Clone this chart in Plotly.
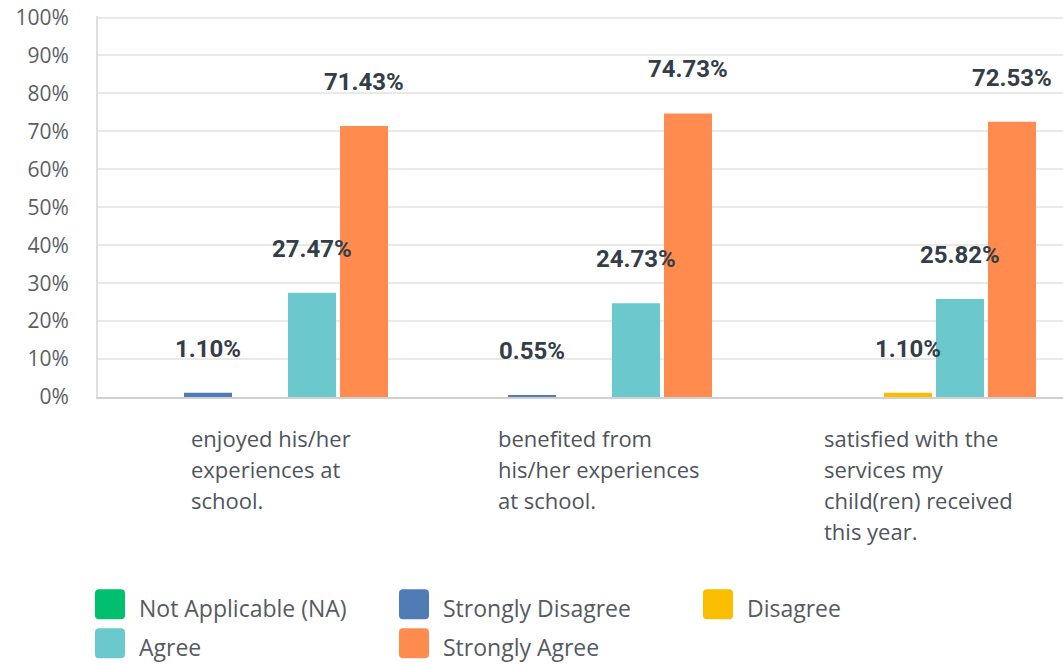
import plotly.graph_objects as go

categories = [
    "enjoyed his/her<br>experiences at<br>school.",
    "benefited from<br>his/her experiences<br>at school.",
    "satisfied with the<br>services my<br>child(ren) received<br>this year.",
]
series_names = ["Not Applicable (NA)", "Strongly Disagree", "Disagree", "Agree", "Strongly Agree"]
series_colors = ["#00bf6f", "#507cb6", "#f9be00", "#6bc8cd", "#ff8b4f"]
not_applicable = [0.0, 0.0, 0.0]
strongly_disagree = [1.10, 0.55, 0.0]
disagree = [0.0, 0.0, 1.10]
agree = [27.47, 24.73, 25.82]
strongly_agree = [71.43, 74.73, 72.53]
series_values = [not_applicable, strongly_disagree, disagree, agree, strongly_agree]
y_ticks = [0, 10, 20, 30, 40, 50, 60, 70, 80, 90, 100]
y_tick_text = [f"{t}%" for t in y_ticks]

# layout constants (page pixels); body margin is removed by the post script
W, H = 1063, 665
Y_MAX = 100.4
PLOT_L, PLOT_B = 98, 397
PLOT_T = PLOT_B - Y_MAX * 3.79
ML, MR, MT = PLOT_L, 0, PLOT_T
MB = H - PLOT_B
PW = W - ML - MR
PH = H - MT - MB
BARGAP = 0.1975
GROUPGAP = 0.077
CAT_PX = 324.0
LABEL_LEFT_SHIFT = [-71, -88, -86]
LABEL_TOP = 438
LABEL_LINE = 31

def px_x(px):
    return (px - PLOT_L) / PW

def px_y(py):
    return (PLOT_B - py) / PH

fig = go.Figure()
cat_idx = list(range(len(categories)))
for name, color, vals in zip(series_names, series_colors, series_values):
    fig.add_trace(go.Bar(x=cat_idx, y=vals, name=name, marker_color=color,
                         marker_line_width=0, showlegend=False, hoverinfo="skip"))

annotations = []
n = len(series_names)
slot = (1 - BARGAP) / n
for i, vals in enumerate(series_values):
    for j, v in enumerate(vals):
        if v > 0:
            annotations.append(dict(
                x=j + (i - (n - 1) / 2) * slot, y=v, xref="x", yref="y",
                text=f"{v:.2f}%", showarrow=False, yanchor="middle", yshift=44,
                font=dict(family="Roboto", size=24, color="#333e48", weight="bold"),
            ))

for j, cat in enumerate(categories):
    for k, line in enumerate(cat.split("<br>")):
        annotations.append(dict(
            x=j, y=px_y(LABEL_TOP + k * LABEL_LINE), xref="x", yref="paper", text=line,
            showarrow=False, xanchor="left", yanchor="middle", xshift=LABEL_LEFT_SHIFT[j],
            font=dict(family="Open Sans", size=22, color="#4f555b"),
        ))

shapes = []
leg_cols = [95, 399, 703]
leg_rows = [604, 643]
sq = 30
for k, (name, color) in enumerate(zip(series_names, series_colors)):
    cx = leg_cols[k % 3]
    cy = leg_rows[k // 3]
    x0, x1 = px_x(cx), px_x(cx + sq)
    y0, y1 = px_y(cy + sq / 2), px_y(cy - sq / 2)
    rx = 4 / PW
    ry = 4 / PH
    path = (f"M{x0+rx},{y0} L{x1-rx},{y0} Q{x1},{y0} {x1},{y0+ry} L{x1},{y1-ry} "
            f"Q{x1},{y1} {x1-rx},{y1} L{x0+rx},{y1} Q{x0},{y1} {x0},{y1-ry} "
            f"L{x0},{y0+ry} Q{x0},{y0} {x0+rx},{y0} Z")
    shapes.append(dict(type="path", path=path, xref="paper", yref="paper",
                       fillcolor=color, line=dict(width=0), layer="above"))
    annotations.append(dict(
        x=px_x(cx + 42), y=px_y(cy + 4), xref="paper", yref="paper", text=name,
        showarrow=False, xanchor="left", yanchor="middle",
        font=dict(family="Open Sans", size=23, color="#555b61"),
    ))

fig.update_layout(
    width=W, height=H,
    margin=dict(l=ML, r=MR, t=MT, b=MB, pad=0, autoexpand=False),
    paper_bgcolor="white", plot_bgcolor="white",
    barmode="group", bargap=BARGAP, bargroupgap=GROUPGAP,
    showlegend=False, hovermode=False,
    annotations=annotations, shapes=shapes,
    xaxis=dict(range=[-0.5, -0.5 + PW / CAT_PX], showticklabels=False, showgrid=False,
               zeroline=False, showline=True, linecolor="#d0d0d0", linewidth=2,
               fixedrange=True),
    yaxis=dict(range=[0, Y_MAX], tickvals=y_ticks, ticktext=y_tick_text, showgrid=True,
               gridcolor="#e9e9e9", gridwidth=2, zeroline=False, showline=True,
               linecolor="#e0e0e0", linewidth=2, ticklabelstandoff=23,
               ticklabeloverflow="allow", fixedrange=True,
               tickfont=dict(family="Open Sans", size=21, color="#5a5f66")),
)

fig.write_html("out.html", config={"displayModeBar": False},
               post_script="document.body.style.margin='0';document.body.style.overflow='hidden';")
